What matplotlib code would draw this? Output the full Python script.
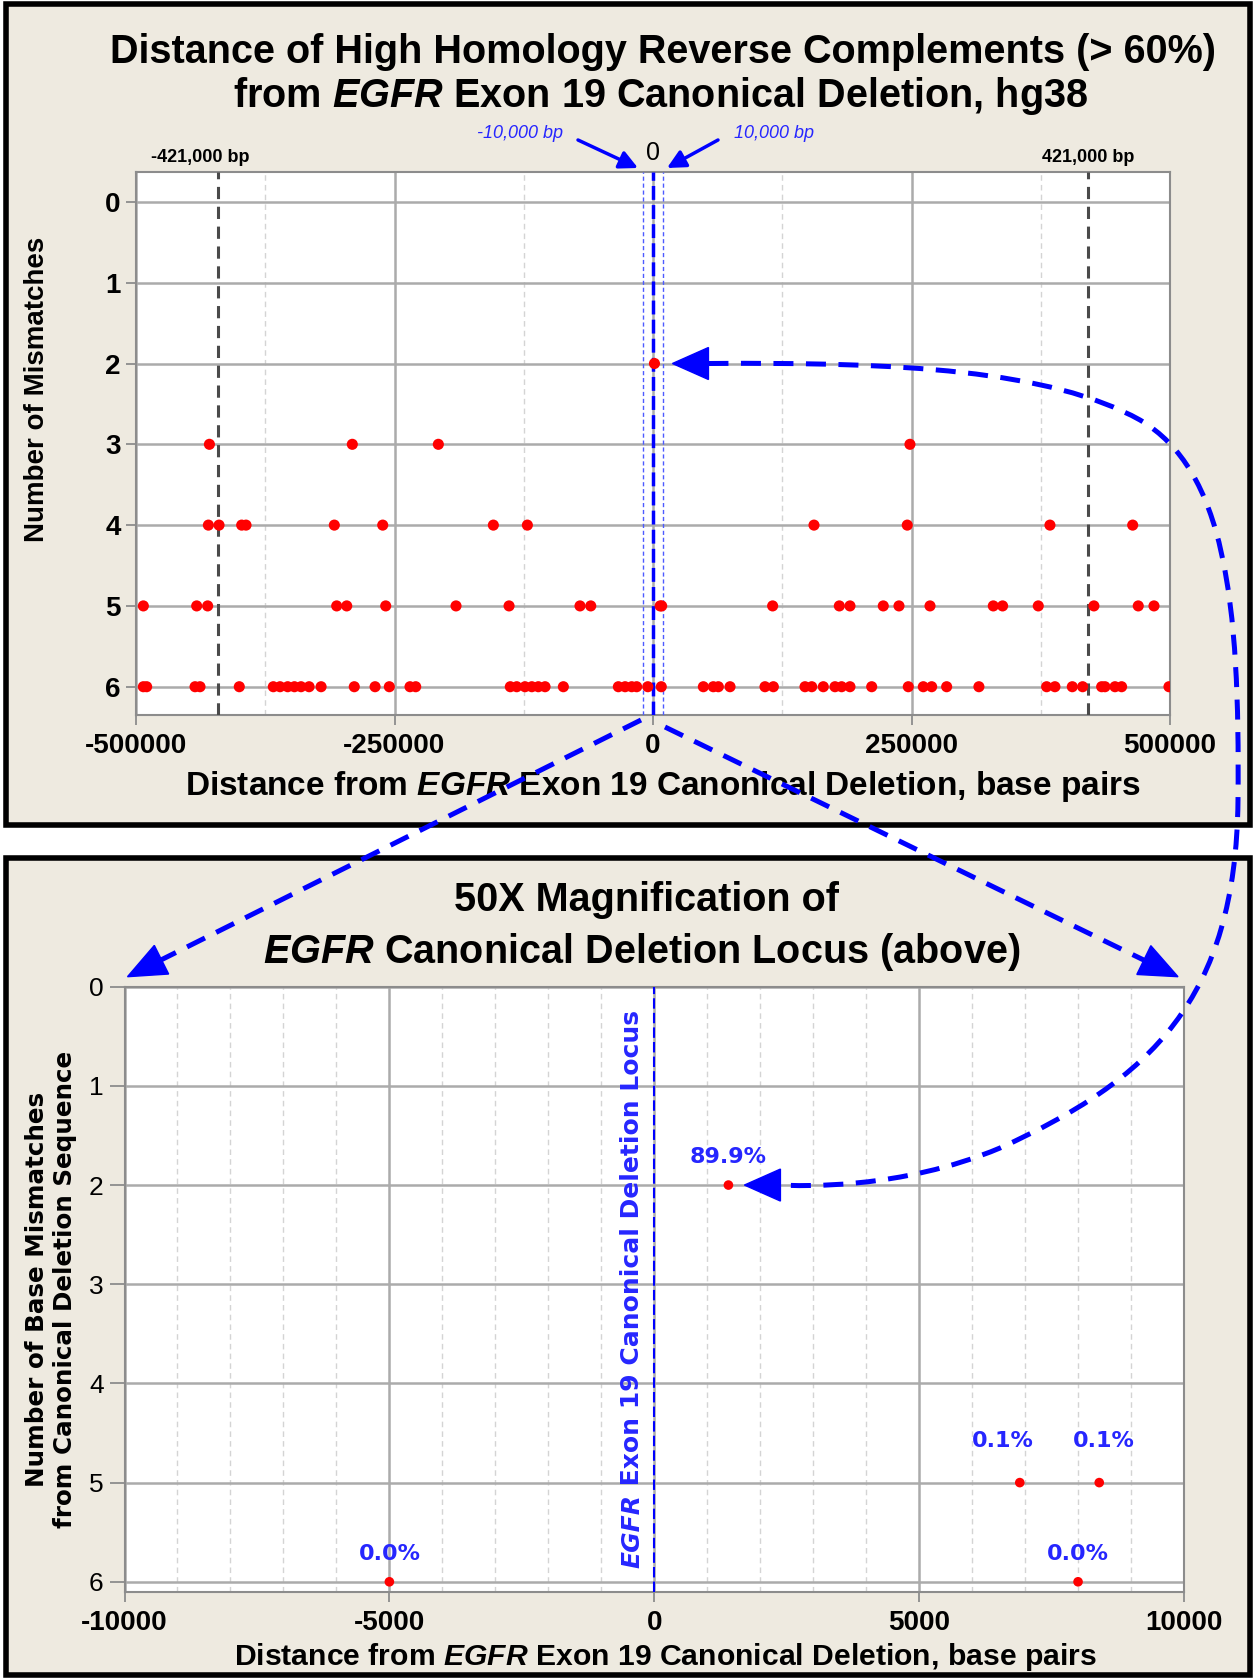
import numpy as np
import matplotlib
matplotlib.use('Agg')
import matplotlib.pyplot as plt
from matplotlib.patches import Rectangle, Polygon, PathPatch, FancyArrowPatch
from matplotlib.path import Path

plt.rcParams['font.family'] = ['Liberation Sans', 'DejaVu Sans']
plt.rcParams['axes.unicode_minus'] = False
plt.rcParams['mathtext.fontset'] = 'custom'
plt.rcParams['mathtext.rm'] = 'Liberation Sans:bold'
plt.rcParams['mathtext.it'] = 'Liberation Sans:italic:bold'
plt.rcParams['mathtext.bf'] = 'Liberation Sans:bold'

# distance (bp) of each reverse complement, grouped by number of mismatches
mm2 = [1400]
mm3 = [-429000, -290800, -207600, 248500]
mm4 = [-430000, -419700, -397800, -393600, -308200, -261400, -154400, -121500,
       155700, 245900, 383900, 463900]
mm5 = [-492900, -441300, -430700, -305900, -296200, -258500, -190500, -139200,
       -70600, -60200, 6900, 8400, 115700, 180200, 190500, 222700, 237900, 267900,
       329100, 338100, 372600, 426400, 469300, 484500]
mm6 = [-492900, -489700, -442900, -438100, -400100, -367200, -360700, -353300,
       -346800, -340400, -332600, -321000, -288900, -268800, -255000, -235000,
       -229500, -138000, -131800, -123800, -117200, -110900, -104400, -86700,
       -33500, -27000, -20600, -15800, -5000, 8000, 48700, 58300, 63200, 74500,
       108300, 116400, 147000, 153500, 164700, 176000, 182400, 190500, 211500,
       246900, 261400, 269500, 284000, 315200, 380700, 388700, 405500, 415500,
       433900, 437100, 446800, 453200, 499000]
groups = {2: mm2, 3: mm3, 4: mm4, 5: mm5, 6: mm6}

# homology percentages of the hits within +/-10,000 bp (same order as below)
near_pct = ['89.9%', '0.1%', '0.1%', '0.0%', '0.0%']
pct_offset = [(0, 20), (-12, 30), (3, 30), (0, 20), (0, 20)]

flank = 421000
window = 10000

x = np.concatenate([np.array(v, float) for v in groups.values()])
y = np.concatenate([np.full(len(v), k) for k, v in groups.items()])
near = np.abs(x) <= window
xn, yn = x[near], y[near]

W, H = 1256, 1678
fig = plt.figure(figsize=(W / 100, H / 100), dpi=100, facecolor='white')


def fx(px):
    return px / W


def fy(py):
    return 1 - py / H


bg = '#EEEAE0'
blue = '#0000FF'
tblue = '#2626FF'
fig.add_artist(Rectangle((fx(6), fy(825)), fx(1244), 821 / H, transform=fig.transFigure,
                         facecolor=bg, edgecolor='black', lw=4, zorder=-5))
fig.add_artist(Rectangle((fx(6), fy(1675)), fx(1244), 817 / H, transform=fig.transFigure,
                         facecolor=bg, edgecolor='black', lw=4, zorder=-5))


def style_axes(ax):
    ax.set_facecolor('white')
    for s in ax.spines.values():
        s.set_color('#8C8C8C')
        s.set_linewidth(1.5)
    ax.grid(True, which='major', color='#ABABAB', lw=1.8, zorder=0)
    ax.grid(True, which='minor', axis='x', color='#D4D4D4', lw=1, ls=(0, (4, 3)), zorder=0)
    ax.tick_params(which='major', direction='out', length=7, width=1.3, color='#8C8C8C')
    ax.tick_params(which='minor', length=0)
    ax.set_axisbelow(True)


# ---------- top panel ----------
ax1 = fig.add_axes([fx(136), fy(715), fx(1170 - 136), (715 - 172) / H])
style_axes(ax1)
ax1.scatter(x, y, s=64, color='#FF0000', edgecolors='none', zorder=4)
ax1.set_xlim(-500000, 500000)
ax1.set_ylim(6.35, -0.37)
ax1.set_xticks([-500000, -250000, 0, 250000, 500000])
ax1.set_xticks([-375000, -125000, 125000, 375000], minor=True)
ax1.set_yticks(range(7))
ax1.tick_params(axis='x', labelsize=20, pad=6)
ax1.tick_params(axis='y', labelsize=20, pad=4)
for lab in ax1.get_xticklabels() + ax1.get_yticklabels():
    lab.set_fontweight('bold')
for v in (-flank, flank):
    ax1.axvline(v, color='#4A4A4A', lw=2.2, ls=(0, (4, 2.5)), zorder=3)
for v in (-window, window):
    ax1.axvline(v, color='#4D5BFF', lw=1, ls=(0, (3, 2)), zorder=3)
ax1.axvline(0, color=blue, lw=2.5, ls=(0, (4, 1.5)), zorder=3)

fig.text(fx(663), fy(52), 'Distance of High Homology Reverse Complements (> 60%)',
         ha='center', va='center', fontsize=28.5, fontweight='bold')
fig.text(fx(661), fy(96), r'from $\mathit{EGFR}$ Exon 19 Canonical Deletion, hg38',
         ha='center', va='center', fontsize=28.5, fontweight='bold')
fig.text(fx(37), fy(389), 'Number of Mismatches', rotation=90, ha='center', va='center',
         fontsize=20, fontweight='bold')
fig.text(fx(663), fy(787), r'Distance from $\mathit{EGFR}$ Exon 19 Canonical Deletion, base pairs',
         ha='center', va='center', fontsize=24, fontweight='bold')

ax1.text(-flank - 17000, -0.55, '-421,000 bp', ha='center', va='center', fontsize=13,
         fontweight='bold')
ax1.text(flank, -0.55, '421,000 bp', ha='center', va='center', fontsize=13, fontweight='bold')
ax1.text(0, -0.6, '0', ha='center', va='center', fontsize=18)
fig.text(fx(520), fy(134), '-10,000 bp', ha='center', va='center', fontsize=13,
         style='italic', color=tblue)
fig.text(fx(774), fy(134), '10,000 bp', ha='center', va='center', fontsize=13,
         style='italic', color=tblue)
for (x0, y0), (x1, y1) in [((578, 140), (638, 168)), ((718, 140), (667, 168))]:
    fig.add_artist(FancyArrowPatch(
        (fx(x0), fy(y0)), (fx(x1), fy(y1)), transform=fig.transFigure,
        arrowstyle='-|>,head_length=11,head_width=5.5', color=blue, lw=2.5,
        mutation_scale=1, shrinkA=0, shrinkB=0, zorder=10))

# ---------- bottom panel ----------
ax2 = fig.add_axes([fx(124.5), fy(1591.7), fx(1184 - 124.5), (1591.7 - 986.7) / H])
style_axes(ax2)
ax2.scatter(xn, yn, s=48, color='#FF0000', edgecolors='none', zorder=4)
ax2.set_xlim(-window, window)
ax2.set_ylim(6.1, 0)
ax2.set_xticks([-10000, -5000, 0, 5000, 10000])
ax2.set_xticks(np.arange(-9000, 10000, 1000), minor=True)
ax2.set_yticks(range(7))
ax2.tick_params(axis='x', labelsize=20, pad=6)
ax2.tick_params(axis='y', labelsize=19, pad=4, length=11)
for lab in ax2.get_xticklabels():
    lab.set_fontweight('bold')
ax2.axvline(0, color=blue, lw=1.5, ls=(0, (5, 2)), zorder=3)
for xi, yi, lab, off in zip(xn, yn, near_pct, pct_offset):
    ax2.annotate(lab, (xi, yi), xytext=off, textcoords='offset points', ha='center',
                 va='center', fontsize=16, fontweight='bold', color=tblue,
                 family='DejaVu Sans')

t1 = ax2.text(-415, 5.86, 'EGFR', rotation=90, ha='center', va='bottom', fontsize=18,
              fontweight='bold', style='italic', color=tblue, family='DejaVu Sans')
ax2.annotate(' Exon 19 Canonical Deletion Locus', xy=(0.5, 1), xycoords=t1, rotation=90,
             ha='center', va='bottom', fontsize=18, fontweight='bold', color=tblue,
             family='DejaVu Sans')

fig.text(fx(647), fy(900), '50X Magnification of', ha='center', va='center',
         fontsize=28.5, fontweight='bold')
fig.text(fx(642), fy(952), r'$\mathit{EGFR}$ Canonical Deletion Locus (above)',
         ha='center', va='center', fontsize=28.5, fontweight='bold')
fig.text(fx(51), fy(1289), 'Number of Base Mismatches\nfrom Canonical Deletion Sequence',
         rotation=90, ha='center', va='center', fontsize=17.7, fontweight='bold',
         family='DejaVu Sans', linespacing=1.25)
fig.text(fx(665), fy(1657), r'Distance from $\mathit{EGFR}$ Exon 19 Canonical Deletion, base pairs',
         ha='center', va='center', fontsize=21.7, fontweight='bold')

# ---------- blue dashed connectors (figure pixels, y from top) ----------
def to_px(ax, pt):
    X, Y = ax.transData.transform(pt)
    return np.array([X, H - Y])


def head(tip, frm, length=34, width=30):
    tip = np.asarray(tip, float)
    d = tip - np.asarray(frm, float)
    d /= np.hypot(*d)
    n = np.array([-d[1], d[0]])
    base = tip - d * length
    pts = [tip, base + n * width / 2, base - n * width / 2]
    fig.add_artist(Polygon([(fx(p[0]), fy(p[1])) for p in pts], closed=True,
                           transform=fig.transFigure, color=blue, zorder=11))
    return base


def dashed(verts, codes):
    p = Path([(fx(a), fy(b)) for a, b in verts], codes)
    fig.add_artist(PathPatch(p, transform=fig.transFigure, fill=False, edgecolor=blue,
                             lw=3.6, ls=(0, (4, 2.5)), zorder=10, capstyle='butt'))


top_pt = to_px(ax1, (mm2[0], 2)) + [18, 0]
bot_pt = to_px(ax2, (mm2[0], 2)) + [16, 0]
b1 = head(top_pt, top_pt + [10, 0], length=36, width=32)
b2 = head(bot_pt, bot_pt + [10, 0], length=36, width=32)
C = Path.CURVE4
dashed([tuple(b1), (900, 362), (1050, 370), (1140, 420),
        (1225, 470), (1240, 600), (1238, 800),
        (1236, 1000), (1150, 1080), (1000, 1148),
        (900, 1190), (800, 1186), tuple(b2)],
       [Path.MOVETO] + [C] * 12)

origin = to_px(ax1, (0, 6.35))
corner_l = to_px(ax2, (-window, 0)) + [3, -10]
corner_r = to_px(ax2, (window, 0)) + [-6, -10]
for start, tip in [(origin + [-12, 5], corner_l), (origin + [12, 12], corner_r)]:
    base = head(tip, start, length=38, width=32)
    dashed([tuple(start), tuple(base)], [Path.MOVETO, Path.LINETO])

fig.savefig('out.png', dpi=100, facecolor='white')
